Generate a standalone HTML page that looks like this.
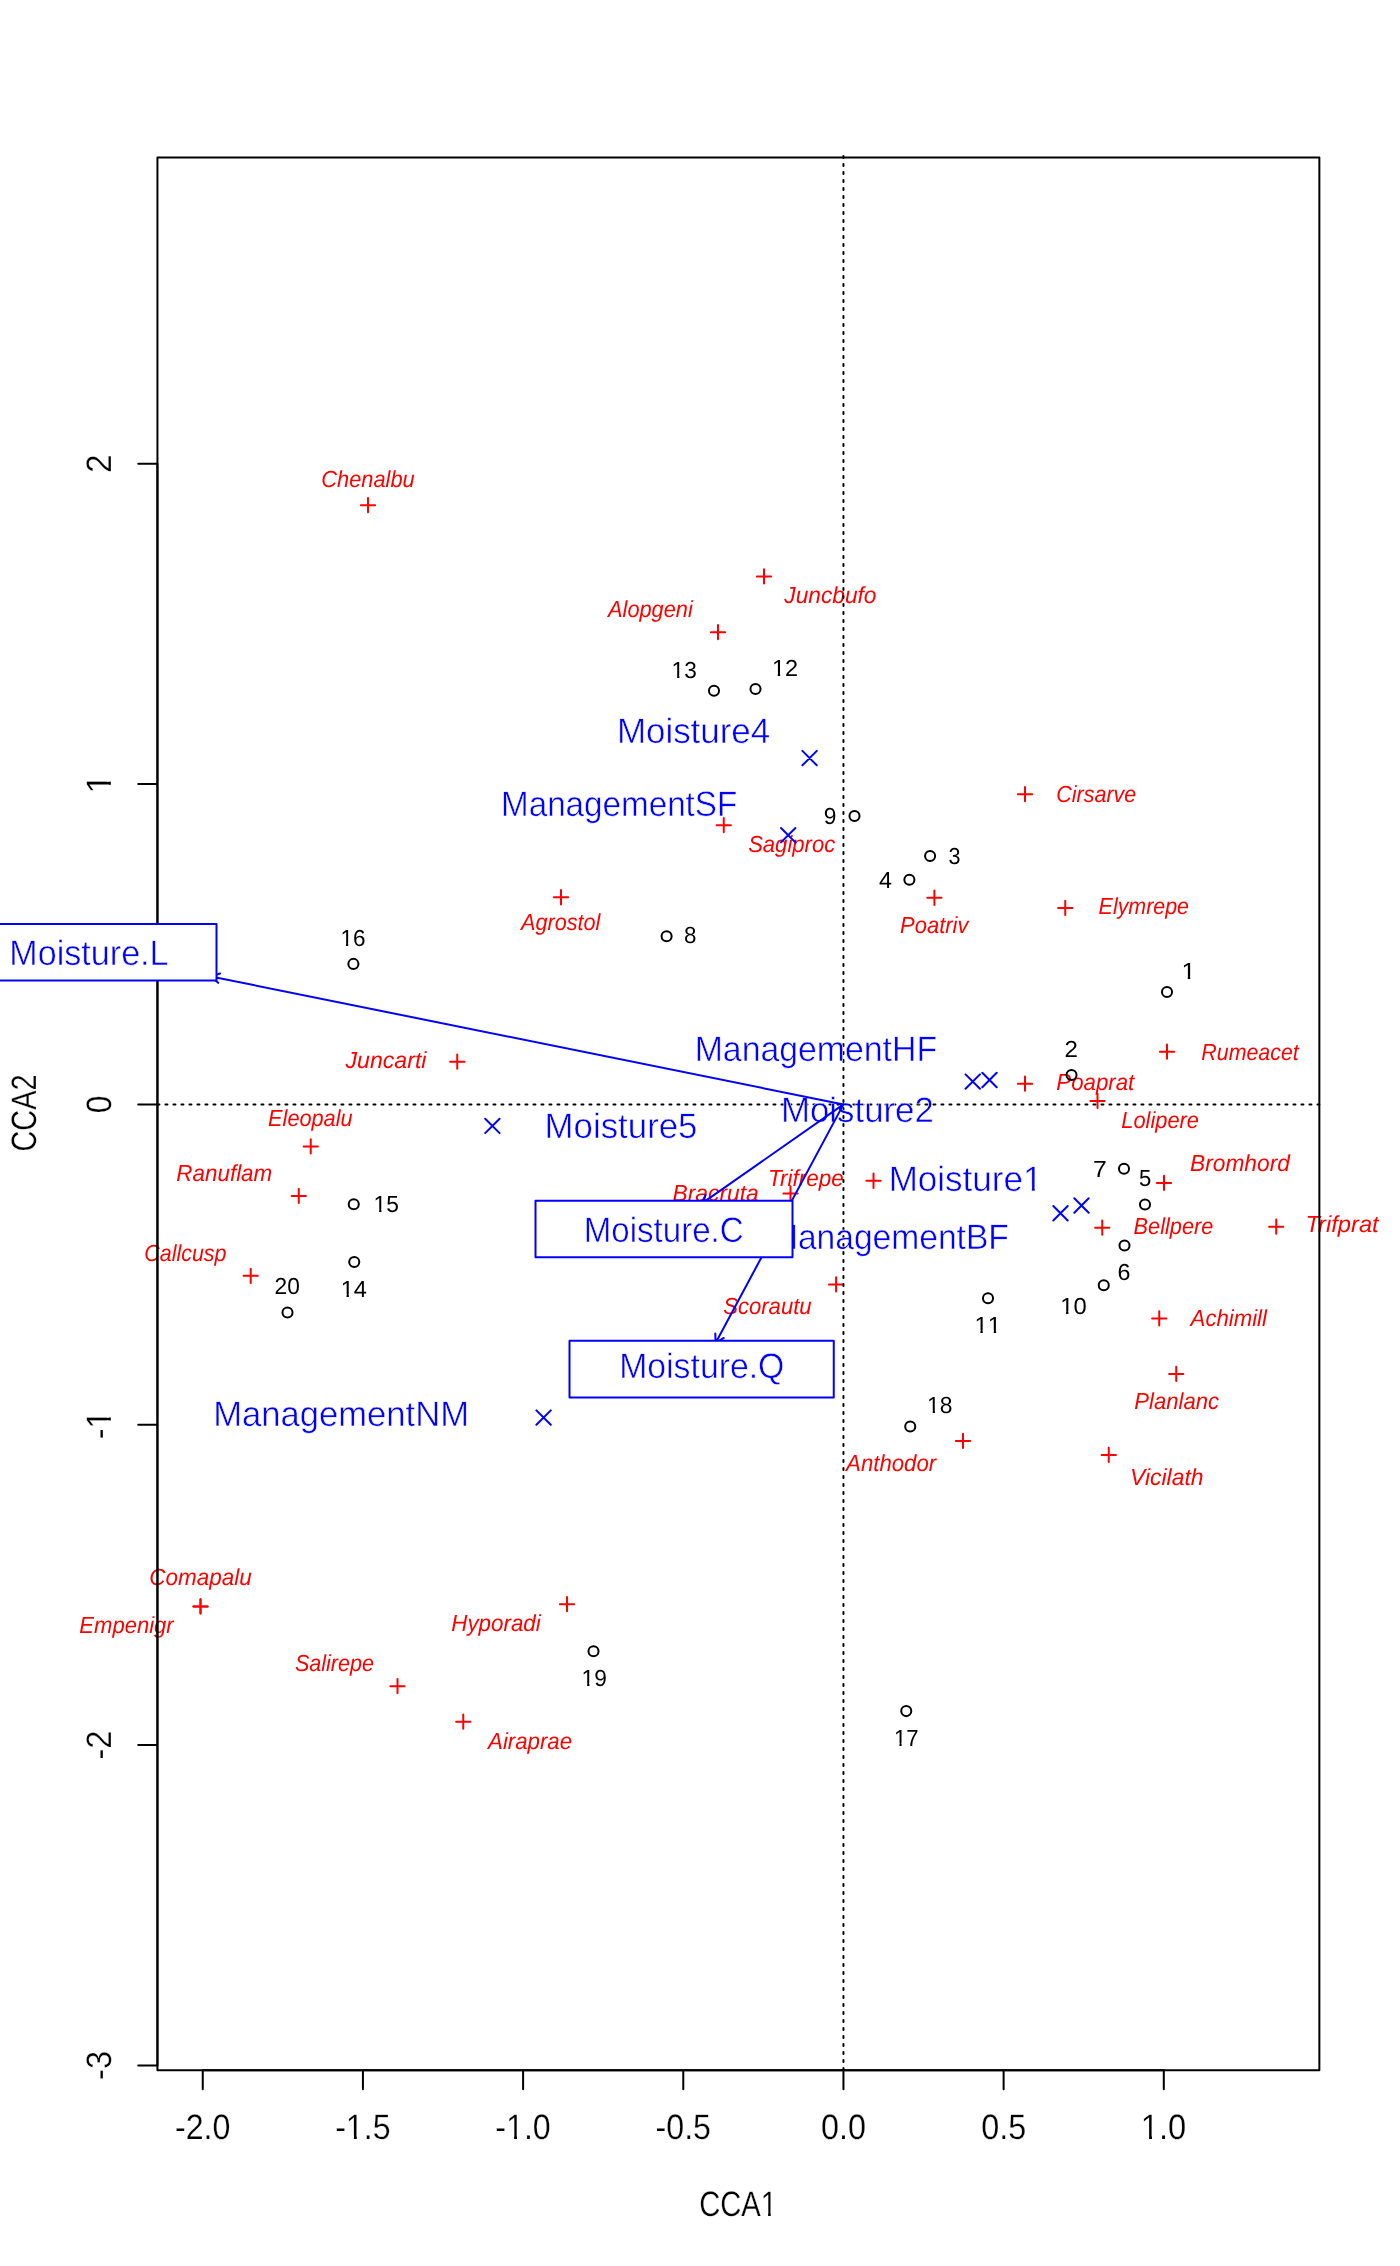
<!DOCTYPE html>
<html><head><meta charset="utf-8"><title>CCA ordination</title>
<style>
html,body{margin:0;padding:0;background:#fff;}
svg{display:block;font-family:"Liberation Sans",sans-serif;text-rendering:geometricPrecision;will-change:transform;}
</style></head>
<body>
<svg width="1400" height="2266" viewBox="0 0 1400 2266">
<rect width="1400" height="2266" fill="#ffffff"/>
<g fill="none" stroke="#ff0000" stroke-width="2" stroke-linecap="round">
<path d="M360.87 505.15H375.13M368.00 498.02V512.28M756.87 576.40H771.13M764.00 569.27V583.53M710.87 632.15H725.13M718.00 625.02V639.28M1017.87 794.15H1032.13M1025.00 787.02V801.28M716.62 825.15H730.88M723.75 818.02V832.28M553.87 897.25H568.13M561.00 890.12V904.38M927.27 897.75H941.53M934.40 890.62V904.88M1058.12 907.90H1072.38M1065.25 900.77V915.03M1159.87 1051.65H1174.13M1167.00 1044.52V1058.78M450.12 1061.65H464.38M457.25 1054.52V1068.78M1017.87 1083.65H1032.13M1025.00 1076.52V1090.78M1090.37 1100.90H1104.63M1097.50 1093.77V1108.03M303.62 1146.40H317.88M310.75 1139.27V1153.53M866.37 1180.75H880.63M873.50 1173.62V1187.88M1156.87 1182.90H1171.13M1164.00 1175.77V1190.03M783.37 1193.40H797.63M790.50 1186.27V1200.53M291.62 1195.90H305.88M298.75 1188.77V1203.03M1095.12 1227.65H1109.38M1102.25 1220.52V1234.78M1269.12 1226.65H1283.38M1276.25 1219.52V1233.78M243.57 1275.85H257.83M250.70 1268.72V1282.98M828.97 1284.40H843.23M836.10 1277.27V1291.53M1152.12 1318.40H1166.38M1159.25 1311.27V1325.53M1169.12 1373.90H1183.38M1176.25 1366.77V1381.03M955.87 1440.90H970.13M963.00 1433.77V1448.03M1101.62 1454.90H1115.88M1108.75 1447.77V1462.03M193.37 1606.40H207.63M200.50 1599.27V1613.53"/>
<path d="M193.37 1606.40H207.63M200.50 1599.27V1613.53M559.87 1604.15H574.13M567.00 1597.02V1611.28M390.37 1686.15H404.63M397.50 1679.02V1693.28M456.12 1721.65H470.38M463.25 1714.52V1728.78"/>
</g>
<text transform="translate(321.30,487.00) scale(0.9377,1)" font-size="23.26" fill="#ff0000" font-style="italic">Chenalbu</text>
<text transform="translate(784.31,603.00) scale(0.9762,1)" font-size="23.26" fill="#ff0000" font-style="italic">Juncbufo</text>
<text transform="translate(608.08,617.00) scale(0.9353,1)" font-size="23.26" fill="#ff0000" font-style="italic">Alopgeni</text>
<text transform="translate(1056.32,802.00) scale(0.9235,1)" font-size="23.26" fill="#ff0000" font-style="italic">Cirsarve</text>
<text transform="translate(748.13,852.00) scale(0.9488,1)" font-size="23.26" fill="#ff0000" font-style="italic">Sagiproc</text>
<text transform="translate(520.97,930.00) scale(0.9309,1)" font-size="23.26" fill="#ff0000" font-style="italic">Agrostol</text>
<text transform="translate(900.08,933.00) scale(0.9443,1)" font-size="23.26" fill="#ff0000" font-style="italic">Poatriv</text>
<text transform="translate(1098.60,914.00) scale(0.9206,1)" font-size="23.26" fill="#ff0000" font-style="italic">Elymrepe</text>
<text transform="translate(1201.35,1060.00) scale(0.9188,1)" font-size="23.26" fill="#ff0000" font-style="italic">Rumeacet</text>
<text transform="translate(345.56,1068.00) scale(0.9934,1)" font-size="23.26" fill="#ff0000" font-style="italic">Juncarti</text>
<text transform="translate(1056.32,1090.00) scale(0.9563,1)" font-size="23.26" fill="#ff0000" font-style="italic">Poaprat</text>
<text transform="translate(1121.33,1128.00) scale(0.9390,1)" font-size="23.26" fill="#ff0000" font-style="italic">Lolipere</text>
<text transform="translate(268.09,1126.00) scale(0.9338,1)" font-size="23.26" fill="#ff0000" font-style="italic">Eleopalu</text>
<text transform="translate(176.32,1181.00) scale(0.9640,1)" font-size="23.26" fill="#ff0000" font-style="italic">Ranuflam</text>
<text transform="translate(1190.06,1171.00) scale(0.9775,1)" font-size="23.26" fill="#ff0000" font-style="italic">Bromhord</text>
<text transform="translate(767.99,1186.00) scale(0.9672,1)" font-size="23.26" fill="#ff0000" font-style="italic">Trifrepe</text>
<text transform="translate(672.55,1201.00) scale(0.9809,1)" font-size="23.26" fill="#ff0000" font-style="italic">Bracruta</text>
<text transform="translate(1133.59,1234.00) scale(0.9340,1)" font-size="23.26" fill="#ff0000" font-style="italic">Bellpere</text>
<text transform="translate(1305.38,1232.00) scale(1.0189,1)" font-size="23.26" fill="#ff0000" font-style="italic">Trifprat</text>
<text transform="translate(144.32,1261.00) scale(0.9205,1)" font-size="23.26" fill="#ff0000" font-style="italic">Callcusp</text>
<text transform="translate(723.13,1314.00) scale(0.9512,1)" font-size="23.26" fill="#ff0000" font-style="italic">Scorautu</text>
<text transform="translate(1190.60,1326.00) scale(0.9535,1)" font-size="23.26" fill="#ff0000" font-style="italic">Achimill</text>
<text transform="translate(1134.33,1409.00) scale(0.9489,1)" font-size="23.26" fill="#ff0000" font-style="italic">Planlanc</text>
<text transform="translate(846.10,1471.00) scale(0.9549,1)" font-size="23.26" fill="#ff0000" font-style="italic">Anthodor</text>
<text transform="translate(1130.03,1485.00) scale(0.9860,1)" font-size="23.26" fill="#ff0000" font-style="italic">Vicilath</text>
<text transform="translate(149.26,1585.00) scale(0.9661,1)" font-size="23.26" fill="#ff0000" font-style="italic">Comapalu</text>
<text transform="translate(79.33,1633.00) scale(0.9485,1)" font-size="23.26" fill="#ff0000" font-style="italic">Empenigr</text>
<text transform="translate(451.32,1631.00) scale(0.9606,1)" font-size="23.26" fill="#ff0000" font-style="italic">Hyporadi</text>
<text transform="translate(294.90,1671.00) scale(0.9274,1)" font-size="23.26" fill="#ff0000" font-style="italic">Salirepe</text>
<text transform="translate(488.10,1749.00) scale(0.9551,1)" font-size="23.26" fill="#ff0000" font-style="italic">Airaprae</text>
<g fill="none" stroke="#000000" stroke-width="2">
<circle cx="1167" cy="992" r="5.04"/>
<circle cx="1071.5" cy="1075" r="5.04"/>
<circle cx="930.1" cy="856" r="5.04"/>
<circle cx="909.4" cy="879.75" r="5.04"/>
<circle cx="1145" cy="1204.5" r="5.04"/>
<circle cx="1124.5" cy="1245.5" r="5.04"/>
<circle cx="1124" cy="1168.75" r="5.04"/>
<circle cx="666.6" cy="936.3" r="5.04"/>
<circle cx="854.5" cy="816" r="5.04"/>
<circle cx="1103.75" cy="1285.25" r="5.04"/>
<circle cx="988" cy="1298.25" r="5.04"/>
<circle cx="755.5" cy="689" r="5.04"/>
<circle cx="714" cy="690.75" r="5.04"/>
<circle cx="354.25" cy="1262" r="5.04"/>
<circle cx="353.75" cy="1204.25" r="5.04"/>
<circle cx="353.4" cy="963.9" r="5.04"/>
<circle cx="906.25" cy="1711.1" r="5.04"/>
<circle cx="910.25" cy="1426.5" r="5.04"/>
<circle cx="593.5" cy="1651.25" r="5.04"/>
<circle cx="287.5" cy="1312.5" r="5.04"/>
</g>
<g transform="translate(1181.46,979.00) scale(1.0924,1)"><text font-size="23.26" fill="#000000" style="font-kerning:none">1</text><rect x="0.77" y="-2.94" width="4.93" height="3.64" fill="#fff"/><rect x="8.05" y="-2.94" width="4.75" height="3.64" fill="#fff"/></g>
<text transform="translate(1064.54,1057.00) scale(1.0371,1)" font-size="23.26" fill="#000000" style="font-kerning:none">2</text>
<text transform="translate(948.43,864.00) scale(0.9287,1)" font-size="23.26" fill="#000000" style="font-kerning:none">3</text>
<text transform="translate(878.98,888.00) scale(1.0013,1)" font-size="23.26" fill="#000000" style="font-kerning:none">4</text>
<text transform="translate(1139.11,1186.00) scale(0.9514,1)" font-size="23.26" fill="#000000" style="font-kerning:none">5</text>
<text transform="translate(1117.57,1280.00) scale(1.0004,1)" font-size="23.26" fill="#000000" style="font-kerning:none">6</text>
<text transform="translate(1092.99,1177.00) scale(1.0630,1)" font-size="23.26" fill="#000000" style="font-kerning:none">7</text>
<text transform="translate(683.94,943.00) scale(0.9605,1)" font-size="23.26" fill="#000000" style="font-kerning:none">8</text>
<text transform="translate(823.84,824.00) scale(0.9807,1)" font-size="23.26" fill="#000000" style="font-kerning:none">9</text>
<g transform="translate(1060.22,1314.00) scale(1.0226,1)"><text font-size="23.26" fill="#000000" style="font-kerning:none">10</text><rect x="0.77" y="-2.94" width="4.93" height="3.64" fill="#fff"/><rect x="8.05" y="-2.94" width="4.75" height="3.64" fill="#fff"/></g>
<g transform="translate(974.50,1333.00) scale(1.0318,1)"><text font-size="23.26" fill="#000000" style="font-kerning:none">11</text><rect x="0.77" y="-2.94" width="4.93" height="3.64" fill="#fff"/><rect x="8.05" y="-2.94" width="4.75" height="3.64" fill="#fff"/><rect x="13.71" y="-2.94" width="4.93" height="3.64" fill="#fff"/><rect x="20.99" y="-2.94" width="4.75" height="3.64" fill="#fff"/></g>
<g transform="translate(771.99,676.00) scale(1.0124,1)"><text font-size="23.26" fill="#000000" style="font-kerning:none">12</text><rect x="0.77" y="-2.94" width="4.93" height="3.64" fill="#fff"/><rect x="8.05" y="-2.94" width="4.75" height="3.64" fill="#fff"/></g>
<g transform="translate(671.58,678.00) scale(0.9726,1)"><text font-size="23.26" fill="#000000" style="font-kerning:none">13</text><rect x="0.77" y="-2.94" width="4.93" height="3.64" fill="#fff"/><rect x="8.05" y="-2.94" width="4.75" height="3.64" fill="#fff"/></g>
<g transform="translate(340.74,1297.00) scale(1.0127,1)"><text font-size="23.26" fill="#000000" style="font-kerning:none">14</text><rect x="0.77" y="-2.94" width="4.93" height="3.64" fill="#fff"/><rect x="8.05" y="-2.94" width="4.75" height="3.64" fill="#fff"/></g>
<g transform="translate(373.56,1212.00) scale(0.9816,1)"><text font-size="23.26" fill="#000000" style="font-kerning:none">15</text><rect x="0.77" y="-2.94" width="4.93" height="3.64" fill="#fff"/><rect x="8.05" y="-2.94" width="4.75" height="3.64" fill="#fff"/></g>
<g transform="translate(340.44,946.00) scale(0.9682,1)"><text font-size="23.26" fill="#000000" style="font-kerning:none">16</text><rect x="0.77" y="-2.94" width="4.93" height="3.64" fill="#fff"/><rect x="8.05" y="-2.94" width="4.75" height="3.64" fill="#fff"/></g>
<g transform="translate(893.97,1746.00) scale(0.9524,1)"><text font-size="23.26" fill="#000000" style="font-kerning:none">17</text><rect x="0.77" y="-2.94" width="4.93" height="3.64" fill="#fff"/><rect x="8.05" y="-2.94" width="4.75" height="3.64" fill="#fff"/></g>
<g transform="translate(927.05,1413.00) scale(0.9831,1)"><text font-size="23.26" fill="#000000" style="font-kerning:none">18</text><rect x="0.77" y="-2.94" width="4.93" height="3.64" fill="#fff"/><rect x="8.05" y="-2.94" width="4.75" height="3.64" fill="#fff"/></g>
<g transform="translate(581.57,1686.00) scale(0.9761,1)"><text font-size="23.26" fill="#000000" style="font-kerning:none">19</text><rect x="0.77" y="-2.94" width="4.93" height="3.64" fill="#fff"/><rect x="8.05" y="-2.94" width="4.75" height="3.64" fill="#fff"/></g>
<text transform="translate(274.61,1294.00) scale(0.9766,1)" font-size="23.26" fill="#000000" style="font-kerning:none">20</text>
<g fill="none" stroke="#000000" stroke-width="2" stroke-linecap="round" stroke-dasharray="2 6">
<path d="M157.44 1104.4H1319.36"/>
<path d="M843.45 156V2070.16"/>
</g>
<g fill="none" stroke="#000000" stroke-width="2" stroke-linecap="round" stroke-linejoin="round">
<rect x="157.44" y="157.44" width="1161.9199999999998" height="1912.7199999999998"/>
<path d="M202.75 2070.16H1163.80M202.75 2070.16v19.2M362.93 2070.16v19.2M523.10 2070.16v19.2M683.28 2070.16v19.2M843.45 2070.16v19.2M1003.62 2070.16v19.2M1163.80 2070.16v19.2M157.44 2065.45V463.70M157.44 463.70h-19.2M157.44 784.05h-19.2M157.44 1104.40h-19.2M157.44 1424.75h-19.2M157.44 1745.10h-19.2M157.44 2065.45h-19.2"/>
</g>
<text transform="translate(174.97,2139.12) scale(0.9107,1)" font-size="35.3" fill="#000000" stroke="#fff" stroke-width="0.25" vector-effect="non-scaling-stroke">-2.0</text>
<g transform="translate(335.14,2139.12) scale(0.9124,1)"><text font-size="35.3" fill="#000000" stroke="#fff" stroke-width="0.25" vector-effect="non-scaling-stroke">-1.5</text><rect x="13.44" y="-3.84" width="7.16" height="4.54" fill="#fff"/><rect x="23.78" y="-3.84" width="6.89" height="4.54" fill="#fff"/></g>
<g transform="translate(495.32,2139.12) scale(0.9107,1)"><text font-size="35.3" fill="#000000" stroke="#fff" stroke-width="0.25" vector-effect="non-scaling-stroke">-1.0</text><rect x="13.44" y="-3.84" width="7.16" height="4.54" fill="#fff"/><rect x="23.78" y="-3.84" width="6.89" height="4.54" fill="#fff"/></g>
<text transform="translate(655.49,2139.12) scale(0.9124,1)" font-size="35.3" fill="#000000" stroke="#fff" stroke-width="0.25" vector-effect="non-scaling-stroke">-0.5</text>
<text transform="translate(820.97,2139.12) scale(0.9159,1)" font-size="35.3" fill="#000000" stroke="#fff" stroke-width="0.25" vector-effect="non-scaling-stroke">0.0</text>
<text transform="translate(981.14,2139.12) scale(0.9180,1)" font-size="35.3" fill="#000000" stroke="#fff" stroke-width="0.25" vector-effect="non-scaling-stroke">0.5</text>
<g transform="translate(1140.85,2139.12) scale(0.9259,1)"><text font-size="35.3" fill="#000000" stroke="#fff" stroke-width="0.25" vector-effect="non-scaling-stroke">1.0</text><rect x="1.69" y="-3.84" width="7.16" height="4.54" fill="#fff"/><rect x="12.02" y="-3.84" width="6.89" height="4.54" fill="#fff"/></g>
<g transform="translate(110.75,473.00) rotate(-90) scale(0.9474,1)"><text font-size="35.3" fill="#000000" stroke="#fff" stroke-width="0.25" vector-effect="non-scaling-stroke">2</text></g>
<g transform="translate(110.75,793.59) rotate(-90) scale(0.9927,1)"><text font-size="35.3" fill="#000000" stroke="#fff" stroke-width="0.25" vector-effect="non-scaling-stroke">1</text><rect x="1.69" y="-3.84" width="7.16" height="4.54" fill="#fff"/><rect x="12.02" y="-3.84" width="6.89" height="4.54" fill="#fff"/></g>
<g transform="translate(110.75,1113.27) rotate(-90) scale(0.9028,1)"><text font-size="35.3" fill="#000000" stroke="#fff" stroke-width="0.25" vector-effect="non-scaling-stroke">0</text></g>
<g transform="translate(110.75,1439.13) rotate(-90) scale(0.9075,1)"><text font-size="35.3" fill="#000000" stroke="#fff" stroke-width="0.25" vector-effect="non-scaling-stroke">-1</text><rect x="13.44" y="-3.84" width="7.16" height="4.54" fill="#fff"/><rect x="23.78" y="-3.84" width="6.89" height="4.54" fill="#fff"/></g>
<g transform="translate(110.75,1759.57) rotate(-90) scale(0.9283,1)"><text font-size="35.3" fill="#000000" stroke="#fff" stroke-width="0.25" vector-effect="non-scaling-stroke">-2</text></g>
<g transform="translate(110.75,2079.91) rotate(-90) scale(0.9207,1)"><text font-size="35.3" fill="#000000" stroke="#fff" stroke-width="0.25" vector-effect="non-scaling-stroke">-3</text></g>
<g transform="translate(699.20,2216.12) scale(0.8265,1)"><text font-size="35.3" fill="#000000" stroke="#fff" stroke-width="0.25" vector-effect="non-scaling-stroke">CCA1</text><rect x="76.22" y="-3.84" width="7.16" height="4.54" fill="#fff"/><rect x="86.55" y="-3.84" width="6.89" height="4.54" fill="#fff"/></g>
<text transform="translate(35.55,1151.46) rotate(-90) scale(0.8166,1)" font-size="35.3" fill="#000000" stroke="#fff" stroke-width="0.25" vector-effect="non-scaling-stroke">CCA2</text>
<path fill="none" stroke="#0000ff" stroke-width="2" stroke-linecap="round" d="M802.40 750.90L816.80 765.30M802.40 765.30L816.80 750.90M781.00 828.00L795.40 842.40M781.00 842.40L795.40 828.00M965.55 1074.40L979.95 1088.80M965.55 1088.80L979.95 1074.40M982.30 1072.80L996.70 1087.20M982.30 1087.20L996.70 1072.80M485.20 1118.70L499.60 1133.10M485.20 1133.10L499.60 1118.70M1074.30 1198.30L1088.70 1212.70M1074.30 1212.70L1088.70 1198.30M1053.30 1206.05L1067.70 1220.45M1053.30 1220.45L1067.70 1206.05M536.40 1410.40L550.80 1424.80M536.40 1424.80L550.80 1410.40"/>
<text transform="translate(616.89,743.25) scale(0.9890,1)" font-size="35.3" fill="#0000ff" stroke="#fff" stroke-width="0.5" vector-effect="non-scaling-stroke">Moisture4</text>
<text transform="translate(501.03,816.25) scale(0.9406,1)" font-size="35.3" fill="#0000ff" stroke="#fff" stroke-width="0.5" vector-effect="non-scaling-stroke">ManagementSF</text>
<text transform="translate(694.68,1061.25) scale(0.9578,1)" font-size="35.3" fill="#0000ff" stroke="#fff" stroke-width="0.5" vector-effect="non-scaling-stroke">ManagementHF</text>
<text transform="translate(781.00,1122.25) scale(0.9859,1)" font-size="35.3" fill="#0000ff" stroke="#fff" stroke-width="0.5" vector-effect="non-scaling-stroke">Moisture2</text>
<text transform="translate(544.59,1138.25) scale(0.9866,1)" font-size="35.3" fill="#0000ff" stroke="#fff" stroke-width="0.5" vector-effect="non-scaling-stroke">Moisture5</text>
<g transform="translate(888.68,1191.25) scale(0.9919,1)"><text font-size="35.3" fill="#0000ff" stroke="#fff" stroke-width="0.5" vector-effect="non-scaling-stroke">Moisture1</text><rect x="137.05" y="-3.84" width="7.29" height="4.54" fill="#fff"/><rect x="147.25" y="-3.84" width="7.01" height="4.54" fill="#fff"/></g>
<text transform="translate(770.00,1249.25) scale(0.9508,1)" font-size="35.3" fill="#0000ff" stroke="#fff" stroke-width="0.5" vector-effect="non-scaling-stroke">ManagementBF</text>
<text transform="translate(213.31,1426.25) scale(0.9798,1)" font-size="35.3" fill="#0000ff" stroke="#fff" stroke-width="0.5" vector-effect="non-scaling-stroke">ManagementNM</text>
<path fill="none" stroke="#0000ff" stroke-width="2" stroke-linecap="round" stroke-linejoin="round" d="M843.45 1104.4L211 976.5M218.20 982.85L211 976.5M220.10 973.44L211 976.5M843.45 1104.4L701.6 1203.6M711.16 1202.77L701.6 1203.6M705.66 1194.90L701.6 1203.6M843.45 1104.4L715.6 1343M723.76 1337.94L715.6 1343M715.30 1333.40L715.6 1343"/>
<rect x="-38.5" y="924.1" width="255.0" height="56.5" fill="#ffffff" stroke="#0000ff" stroke-width="2" stroke-linejoin="round"/>
<text transform="translate(9.35,965.25) scale(0.9662,1)" font-size="35.3" fill="#0000ff" stroke="#fff" stroke-width="0.5" vector-effect="non-scaling-stroke">Moisture.L</text>
<rect x="535.5" y="1200.75" width="257.0" height="56.5" fill="#ffffff" stroke="#0000ff" stroke-width="2" stroke-linejoin="round"/>
<text transform="translate(583.74,1242.25) scale(0.9373,1)" font-size="35.3" fill="#0000ff" stroke="#fff" stroke-width="0.5" vector-effect="non-scaling-stroke">Moisture.C</text>
<rect x="569.5" y="1340.8" width="264.25" height="56.700000000000045" fill="#ffffff" stroke="#0000ff" stroke-width="2" stroke-linejoin="round"/>
<text transform="translate(619.18,1378.25) scale(0.9569,1)" font-size="35.3" fill="#0000ff" stroke="#fff" stroke-width="0.5" vector-effect="non-scaling-stroke">Moisture.Q</text>
</svg>
</body></html>
